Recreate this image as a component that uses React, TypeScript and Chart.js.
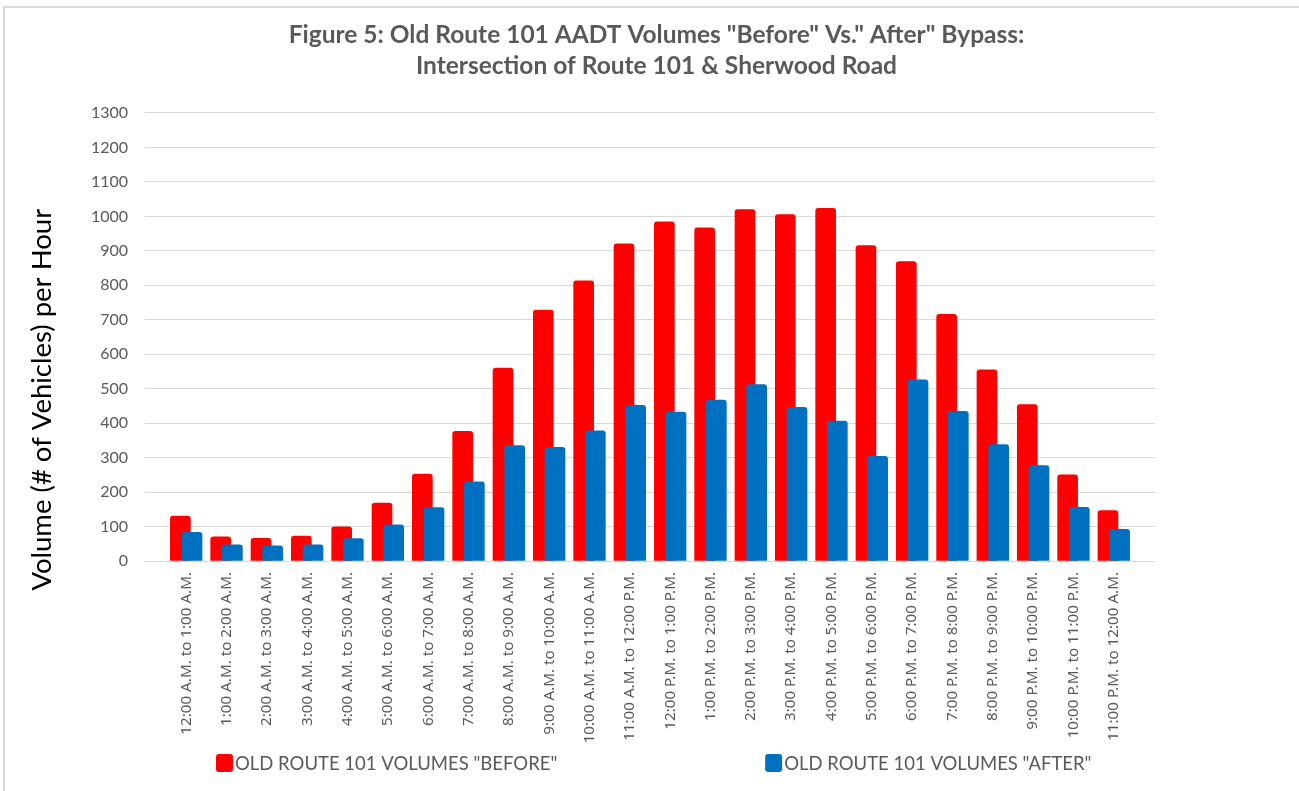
import React, { useEffect, useRef } from 'react';
import { Chart, registerables } from 'chart.js';

Chart.register(...registerables);

const categories: string[] = [
  '12:00 A.M. to 1:00 A.M.',
  '1:00 A.M. to 2:00 A.M.',
  '2:00 A.M. to 3:00 A.M.',
  '3:00 A.M. to 4:00 A.M.',
  '4:00 A.M. to 5:00 A.M.',
  '5:00 A.M. to 6:00 A.M.',
  '6:00 A.M. to 7:00 A.M.',
  '7:00 A.M. to 8:00 A.M.',
  '8:00 A.M. to 9:00 A.M.',
  '9:00 A.M. to 10:00 A.M.',
  '10:00 A.M. to 11:00 A.M.',
  '11:00 A.M. to 12:00 P.M.',
  '12:00 P.M. to 1:00 P.M.',
  '1:00 P.M. to 2:00 P.M.',
  '2:00 P.M. to 3:00 P.M.',
  '3:00 P.M. to 4:00 P.M.',
  '4:00 P.M. to 5:00 P.M.',
  '5:00 P.M. to 6:00 P.M.',
  '6:00 P.M. to 7:00 P.M.',
  '7:00 P.M. to 8:00 P.M.',
  '8:00 P.M. to 9:00 P.M.',
  '9:00 P.M. to 10:00 P.M.',
  '10:00 P.M. to 11:00 P.M.',
  '11:00 P.M. to 12:00 A.M.',
];

const beforeVolumes: number[] = [130, 70, 66, 72, 99, 168, 252, 376, 560, 728, 813, 920, 984, 967, 1020, 1005, 1023, 915, 869, 716, 555, 454, 250, 146];
const afterVolumes: number[] = [83, 47, 44, 47, 65, 105, 155, 230, 335, 330, 378, 452, 432, 467, 512, 446, 406, 304, 526, 434, 338, 277, 156, 92];

const seriesLabels: string[] = ['OLD ROUTE 101 VOLUMES "BEFORE"', 'OLD ROUTE 101 VOLUMES "AFTER"'];
const seriesColors: string[] = ['#FF0000', '#0070C0'];
const titleLines: string[] = [
  'Figure 5: Old Route 101 AADT Volumes "Before" Vs." After" Bypass:',
  'Intersection of Route 101 & Sherwood Road',
];
const yAxisTitle = 'Volume (# of Vehicles) per Hour';
const yMin = 0;
const yMax = 1300;
const yStep = 100;

const TEXT_GRAY = '#595959';
const GRID_GRAY = '#d9d9d9';

const framePlugin = {
  id: 'frame',
  beforeDraw(chart: any) {
    const { ctx, width, height } = chart;
    ctx.save();
    ctx.fillStyle = '#ffffff';
    ctx.fillRect(0, 0, width, height);
    ctx.fillStyle = GRID_GRAY;
    ctx.fillRect(3, 6, 2, height - 6);
    ctx.fillRect(3, 6, width - 3, 2);
    ctx.restore();
  },
};

const extrasPlugin = {
  id: 'extras',
  afterDraw(chart: any) {
    const { ctx, chartArea, height } = chart;
    const plotW = chartArea.right - chartArea.left;
    const plotH = chartArea.bottom - chartArea.top;
    ctx.save();
    // Y axis title
    ctx.translate(chartArea.left - 103, chartArea.top + plotH * 0.64);
    ctx.rotate(-Math.PI / 2);
    ctx.fillStyle = '#000000';
    ctx.font = '27.5px Lato';
    ctx.textAlign = 'center';
    ctx.textBaseline = 'middle';
    ctx.fillText(yAxisTitle, 0, 0);
    ctx.restore();

    // Legend
    const legendY = height - 28;
    const starts = [0.0703, 0.614];
    ctx.save();
    ctx.font = '18.5px Lato';
    ctx.textBaseline = 'middle';
    ctx.textAlign = 'left';
    chart.data.datasets.forEach((ds: any, i: number) => {
      const x = chartArea.left + plotW * starts[i];
      ctx.fillStyle = ds.backgroundColor;
      ctx.beginPath();
      (ctx as any).roundRect(x, legendY - 9, 17, 18, 3);
      ctx.fill();
      ctx.fillStyle = TEXT_GRAY;
      ctx.fillText(ds.label, x + 19, legendY + 1);
    });
    ctx.restore();
  },
};

export default function App() {
  const canvasRef = useRef<HTMLCanvasElement | null>(null);

  useEffect(() => {
    if (!canvasRef.current) return;
    const offsets = [-0.145, 0.145];
    const chart = new Chart(canvasRef.current, {
      type: 'bar',
      data: {
        datasets: [beforeVolumes, afterVolumes].map((vals, s) => ({
          label: seriesLabels[s],
          data: vals.map((v, i) => ({ x: i + offsets[s], y: v })),
          backgroundColor: seriesColors[s],
          borderWidth: 0,
          borderRadius: 3,
          barThickness: 20,
          grouped: false,
          order: s === 0 ? 2 : 1,
        })),
      },
      options: {
        responsive: false,
        animation: false,
        layout: { padding: { left: 14, right: 0, top: 0, bottom: 45 } },
        plugins: {
          legend: { display: false },
          tooltip: { enabled: false },
          title: {
            display: true,
            text: titleLines,
            color: TEXT_GRAY,
            font: { family: 'Lato', size: 24.5, weight: 'bold', lineHeight: 1.265 },
            padding: { top: 19.5, bottom: 31.5 },
          },
        },
        scales: {
          x: {
            type: 'linear',
            min: -0.5,
            max: categories.length - 0.5,
            grid: { display: false, drawTicks: false },
            border: { display: true, color: GRID_GRAY, width: 1 },
            afterBuildTicks: (scale: any) => {
              scale.ticks = categories.map((_, i) => ({ value: i }));
            },
            afterFit: (scale: any) => {
              scale.height = 185;
            },
            ticks: {
              autoSkip: false,
              maxRotation: 90,
              minRotation: 90,
              padding: 11,
              color: TEXT_GRAY,
              font: { family: 'Noto Sans', size: 15.2 },
              callback: (v: any) => categories[v] ?? '',
            },
          },
          y: {
            min: yMin,
            max: yMax,
            grid: { color: GRID_GRAY, drawTicks: false, lineWidth: 1 },
            border: { display: false },
            afterFit: (scale: any) => {
              scale.width = 131;
            },
            ticks: {
              stepSize: yStep,
              padding: 17,
              color: TEXT_GRAY,
              font: { family: 'Lato', size: 16 },
              callback: (v: any) => String(v),
            },
          },
          yRight: {
            position: 'right',
            display: true,
            grid: { display: false, drawTicks: false },
            border: { display: false },
            ticks: { display: false },
            afterFit: (scale: any) => {
              scale.width = 144;
            },
          },
        },
      },
      plugins: [framePlugin, extrasPlugin],
    } as any);
    return () => chart.destroy();
  }, []);

  return (
    <div style={{ position: 'fixed', left: 0, top: 0, width: 1299, height: 791, background: '#fff' }}>
      <canvas ref={canvasRef} width={1299} height={791} style={{ width: 1299, height: 791, display: 'block' }} />
    </div>
  );
}
